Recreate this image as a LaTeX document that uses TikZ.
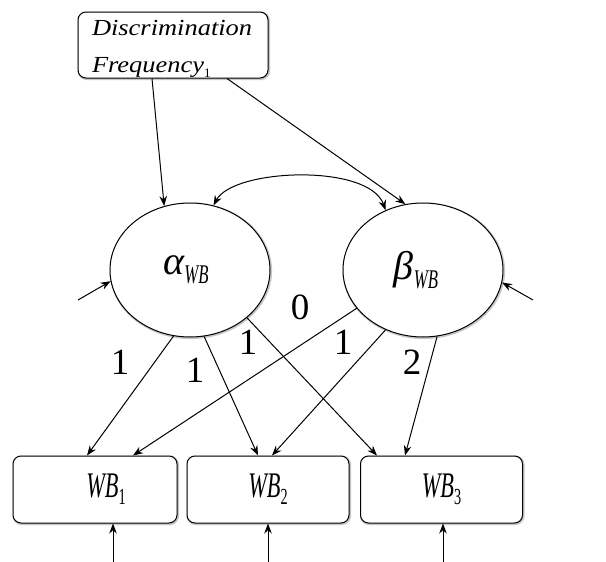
\documentclass[tikz,border=0pt]{standalone}
\usepackage{fontspec}
\usepackage{graphicx}
\setmainfont{Liberation Serif}
\newcommand{\cnd}[1]{\scalebox{0.62}[1]{#1}}
\newcommand{\wde}[1]{\scalebox{1.15}[1]{#1}}
\usetikzlibrary{arrows.meta,shapes.geometric}
\begin{document}
\begin{tikzpicture}[x=1pt,y=-1pt, line width=1pt,
  arr/.style={-{Stealth[length=10pt,width=7.5pt]}},
  dbl/.style={{Stealth[length=10pt,width=7.5pt]}-{Stealth[length=10pt,width=7.5pt]}},
  shad/.style={preaction={draw=black!22, line width=2.6pt, transform canvas={shift={(0.8pt,-0.8pt)}}}},
  box/.style={draw, fill=white, shad, rounded corners=8pt, minimum width=164pt, minimum height=67pt, inner sep=0pt},
  lat/.style={draw, fill=white, shad, ellipse, minimum width=160pt, minimum height=134pt, inner sep=0pt},
  num/.style={font=\fontsize{37}{37}\selectfont, inner sep=0pt},
  wbtxt/.style={font=\fontsize{36}{36}\selectfont\itshape},
]
\fill[white] (0,0) rectangle (606,562);
\useasboundingbox (0,0) rectangle (606,562);

\node[box, minimum width=190pt, minimum height=66pt, text width=162pt, inner xsep=14pt, align=left,
  font=\fontsize{23}{37}\selectfont\itshape] (disc) at (173,45)
  {\rule{0pt}{22pt}\wde{Discrimination}\\\wde{Frequency}\raisebox{-5pt}{\fontsize{13}{13}\selectfont\upshape 1}};

\node[lat] (alpha) at (190,270)
  {\hspace*{-8pt}{\fontsize{40}{40}\selectfont\itshape α}\raisebox{-9pt}{\cnd{\fontsize{27}{27}\selectfont\itshape WB}}};
\node[lat] (beta) at (423,270)
  {\hspace*{-14pt}{\fontsize{40}{40}\selectfont\itshape β}\raisebox{-9pt}{\cnd{\fontsize{27}{27}\selectfont\itshape WB}}};

\node[box, wbtxt] (wb1) at (95,489.5)
  {\hspace*{22pt}\cnd{WB}\raisebox{-7pt}{\cnd{\fontsize{23}{23}\selectfont\upshape 1}}};
\node[box, wbtxt, minimum width=162pt] (wb2) at (268,489.5)
  {\cnd{WB}\raisebox{-7pt}{\cnd{\fontsize{23}{23}\selectfont\upshape 2}}};
\node[box, wbtxt, minimum width=162pt] (wb3) at (441.5,489.5)
  {\cnd{WB}\raisebox{-7pt}{\cnd{\fontsize{23}{23}\selectfont\upshape 3}}};

% labels
\node[num] (l0) at (300,307) {0};
\node[num] (l1a) at (120,362) {1};
\node[num] (l1b) at (195,370) {1};
\node[num] (l1c) at (248,342) {1};
\node[num] (l1d) at (343,342) {1};
\node[num] (l2) at (412,362) {2};

% connectors
\draw[arr] ([xshift=-21pt]disc.south) -- (alpha.112);
\draw[arr] ([xshift=54pt]disc.south) -- (beta.105);
\draw[dbl] (alpha.70) .. controls +(20,-37) and +(-17,-47) .. (beta.122);

\coordinate (la) at (78,300);
\coordinate (rb) at (533,300);
\draw[arr] (la) -- (alpha.188);
\draw[arr] (rb) -- (beta.351);

\draw[arr] (alpha.256) -- ([xshift=-8pt]wb1.north);
\draw[arr] (alpha.282) -- ([xshift=-10pt]wb2.north);
\draw[arr] (alpha.320) -- ([xshift=-64.5pt]wb3.north);
\draw[arr] (beta.210) -- ([xshift=38pt]wb1.north);
\draw[arr] (beta.238) -- ([xshift=4pt]wb2.north);
\draw[arr] (beta.282) -- ([xshift=-36.5pt]wb3.north);

\coordinate (b1) at (113,562);
\coordinate (b2) at (268,562);
\coordinate (b3) at (443,562);
\draw[arr] (b1) -- (b1 |- wb1.south);
\draw[arr] (b2) -- (b2 |- wb2.south);
\draw[arr] (b3) -- (b3 |- wb3.south);
\end{tikzpicture}
\end{document}
